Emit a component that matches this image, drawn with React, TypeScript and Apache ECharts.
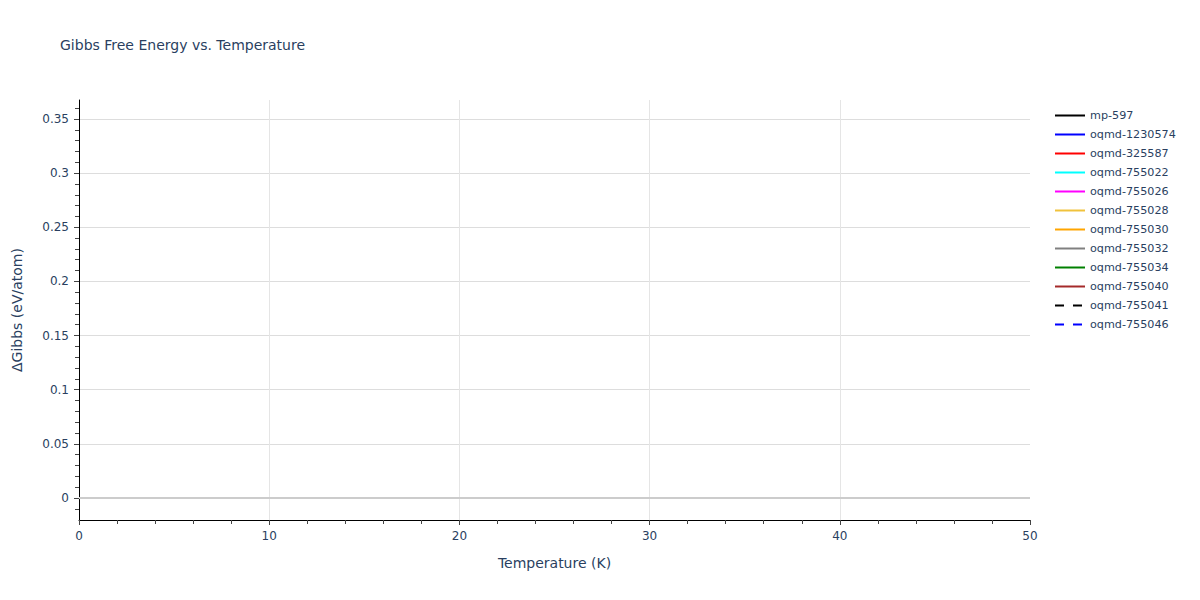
import React, { useEffect, useRef } from "react";
import * as echarts from "echarts";

// material ids shown in the legend, with line colour and dash
const seriesNames = [
  "mp-597",
  "oqmd-1230574",
  "oqmd-325587",
  "oqmd-755022",
  "oqmd-755026",
  "oqmd-755028",
  "oqmd-755030",
  "oqmd-755032",
  "oqmd-755034",
  "oqmd-755040",
  "oqmd-755041",
  "oqmd-755046",
];
const seriesColors = [
  "#000000",
  "#0000ff",
  "#ff0000",
  "#00ffff",
  "#ff00ff",
  "#f0c23c",
  "#ffa500",
  "#808080",
  "#008000",
  "#a52a2a",
  "#000000",
  "#0000ff",
];
const seriesDash = [
  "solid", "solid", "solid", "solid", "solid", "solid",
  "solid", "solid", "solid", "solid", "dashed", "dashed",
];
// no points fall inside the shown temperature window
const seriesData: number[][][] = seriesNames.map(() => []);

const yMajorTicks = [0, 0.05, 0.1, 0.15, 0.2, 0.25, 0.3, 0.35];
const yMinorTicks = [
  -0.01, 0.01, 0.02, 0.03, 0.04, 0.06, 0.07, 0.08, 0.09, 0.11, 0.12, 0.13,
  0.14, 0.16, 0.17, 0.18, 0.19, 0.21, 0.22, 0.23, 0.24, 0.26, 0.27, 0.28,
  0.29, 0.31, 0.32, 0.33, 0.34, 0.36,
];

const textColor = "#2a3f5f";
const font = "'DejaVu Sans', Verdana, sans-serif";

const App = () => {
  const chartRef = useRef<HTMLDivElement>(null);

  useEffect(() => {
    if (!chartRef.current) return;
    const chart = echarts.init(chartRef.current, null, { renderer: "svg" });

    const option = {
      animation: false,
      textStyle: { fontFamily: font },
      title: {
        text: "Gibbs Free Energy vs. Temperature",
        left: 55,
        top: 33,
        textStyle: { fontFamily: font, fontSize: 14, fontWeight: "normal", color: textColor },
      },
      legend: {
        orient: "vertical",
        left: 1054,
        top: 110,
        padding: 0,
        itemWidth: 30,
        itemHeight: 11,
        itemGap: 8,
        itemStyle: { opacity: 0 },
        textStyle: { fontFamily: font, fontSize: 11.2, color: textColor },
        data: seriesNames,
      },
      grid: { left: 79, right: 170, top: 100, bottom: 80 },
      xAxis: {
        type: "value",
        min: 0,
        max: 50,
        interval: 10,
        name: "Temperature (K)",
        nameLocation: "middle",
        nameGap: 36,
        nameTextStyle: { fontFamily: font, fontSize: 14, color: textColor },
        axisLine: { show: true, onZero: false, lineStyle: { color: "#000", width: 1 } },
        axisTick: { show: true, length: 5, lineStyle: { color: "#444" } },
        minorTick: { show: true, splitNumber: 5, length: 4, lineStyle: { color: "#444" } },
        axisLabel: { fontFamily: font, fontSize: 12, color: textColor, margin: 10 },
        splitLine: {
          show: true,
          showMinLine: false,
          showMaxLine: false,
          lineStyle: { color: "#e5e5e5", width: 1 },
        },
      },
      yAxis: [
        {
          type: "value",
          min: -0.0203,
          max: 0.3675,
          name: "ΔGibbs (eV/atom)",
          nameLocation: "middle",
          nameGap: 55,
          nameTextStyle: { fontFamily: font, fontSize: 14, color: textColor },
          axisLine: { show: true, lineStyle: { color: "#000", width: 1 } },
          axisTick: {
            show: true,
            length: 5,
            customValues: yMajorTicks,
            lineStyle: { color: "#444" },
          },
          axisLabel: {
            fontFamily: font,
            fontSize: 12,
            color: textColor,
            margin: 10,
            customValues: yMajorTicks,
          },
          splitLine: {
            show: true,
            lineStyle: { color: "#dddddd", width: 1 },
          },
        },
        {
          type: "value",
          min: -0.0203,
          max: 0.3675,
          position: "left",
          axisLine: { show: false },
          axisTick: {
            show: true,
            length: 4,
            customValues: yMinorTicks,
            lineStyle: { color: "#444" },
          },
          axisLabel: { show: false },
          splitLine: { show: false },
        },
      ],
      series: seriesNames.map((name, i) => ({
        name,
        type: "line",
        data: seriesData[i],
        showSymbol: false,
        symbol: "none",
        lineStyle: { color: seriesColors[i], width: 2, type: seriesDash[i] === "dashed" ? [9, 9] : "solid" },
        itemStyle: { color: seriesColors[i] },
        markLine:
          i === 0
            ? {
                silent: true,
                symbol: "none",
                label: { show: false },
                lineStyle: { color: "#cccccc", width: 2, type: "solid" },
                data: [{ yAxis: 0 }],
              }
            : undefined,
      })),
    };

    chart.setOption(option);
    return () => {
      chart.dispose();
    };
  }, []);

  return <div ref={chartRef} style={{ width: "1200px", height: "600px", margin: "-8px" }} />;
};

export default App;
